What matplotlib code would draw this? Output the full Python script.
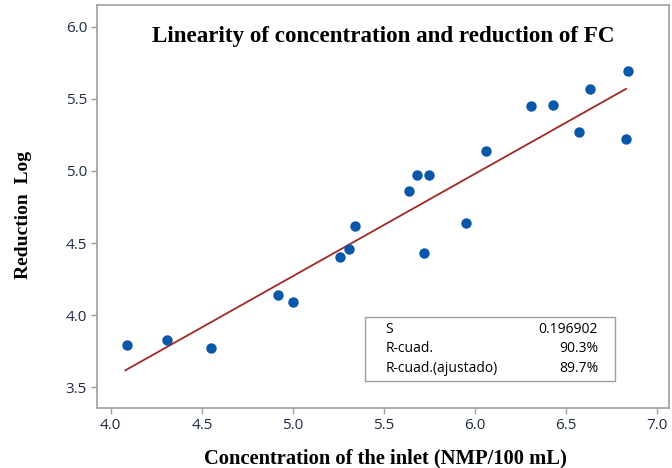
import numpy as np
import matplotlib
matplotlib.use("Agg")
import matplotlib.pyplot as plt
from matplotlib.patches import Rectangle

# Data
conc_inlet = [4.09, 4.31, 4.55, 4.92, 5.00, 5.26, 5.31, 5.34, 5.64, 5.68,
              5.75, 5.72, 5.95, 6.06, 6.31, 6.43, 6.57, 6.63, 6.84, 6.83]
reduction_log = [3.79, 3.83, 3.77, 4.14, 4.09, 4.40, 4.46, 4.62, 4.86, 4.97,
                 4.97, 4.43, 4.64, 5.14, 5.45, 5.46, 5.27, 5.57, 5.69, 5.22]

# Fitted line (intercept, slope) and its x range
fit_coef = [0.720, 0.710]
fit_range = [4.08, 6.83]

stats_names = ["S", "R-cuad.", "R-cuad.(ajustado)"]
stats_values = ["0.196902", "90.3%", "89.7%"]

x_ticks = [4.0, 4.5, 5.0, 5.5, 6.0, 6.5, 7.0]
y_ticks = [3.5, 4.0, 4.5, 5.0, 5.5, 6.0]

serif = ["Liberation Serif", "DejaVu Serif"]
sans = ["Open Sans", "DejaVu Sans"]

fig = plt.figure(figsize=(6.72, 4.68), dpi=100)
ax = fig.add_axes([0.144, 0.128, 0.8515, 0.861])

# Regression line
fx = np.array(fit_range)
fy = fit_coef[0] + fit_coef[1] * fx
ax.plot(fx, fy, color="#a02828", linewidth=1.3, zorder=2)

# Scatter points
ax.plot(conc_inlet, reduction_log, linestyle="none", marker="o",
        markersize=7.5, color="#0a56a8", markeredgewidth=0, zorder=3)

ax.set_xlim(3.923, 7.066)
ax.set_ylim(3.355, 6.15)
ax.set_xticks(x_ticks)
ax.set_yticks(y_ticks)
ax.set_xticklabels([f"{t:.1f}" for t in x_ticks], family=sans, fontsize=11,
                   color="#1f2a44", fontweight="medium")
ax.set_yticklabels([f"{t:.1f}" for t in y_ticks], family=sans, fontsize=11,
                   color="#1f2a44", fontweight="medium")
ax.tick_params(direction="out", length=4, width=1, color="#a0a0a0", pad=3)
for sp in ax.spines.values():
    sp.set_color("#a0a0a0")
    sp.set_linewidth(1.2)

ax.set_xlabel("Concentration of the inlet (NMP/100 mL)", family=serif,
              fontweight="bold", fontsize=14.8)
ax.xaxis.set_label_coords(0.505, -0.100)
ax.set_ylabel("Reduction  Log", family=serif, fontweight="bold",
              fontsize=14)
ax.yaxis.set_label_coords(-0.113, 0.48)

# Title inside the plot area
ax.text(0.5, 0.923, "Linearity of concentration and reduction of FC",
        transform=ax.transAxes, ha="center", va="center", family=serif,
        fontweight="bold", fontsize=16.6)

# Stats box
box_left, box_bottom, box_w, box_h = 0.469, 0.067, 0.437, 0.159
ax.add_patch(Rectangle((box_left, box_bottom), box_w, box_h,
                       transform=ax.transAxes, facecolor="white",
                       edgecolor="#a0a0a0", linewidth=1.0, zorder=4))
row_y = [0.196, 0.149, 0.099]
for name, val, yy in zip(stats_names, stats_values, row_y):
    ax.text(box_left + 0.035, yy, name, transform=ax.transAxes, ha="left",
            va="center", family=sans, fontsize=10, zorder=5)
    ax.text(box_left + box_w - 0.030, yy, val, transform=ax.transAxes,
            ha="right", va="center", family=sans, fontsize=10, zorder=5)

fig.savefig("out.png", dpi=100)
